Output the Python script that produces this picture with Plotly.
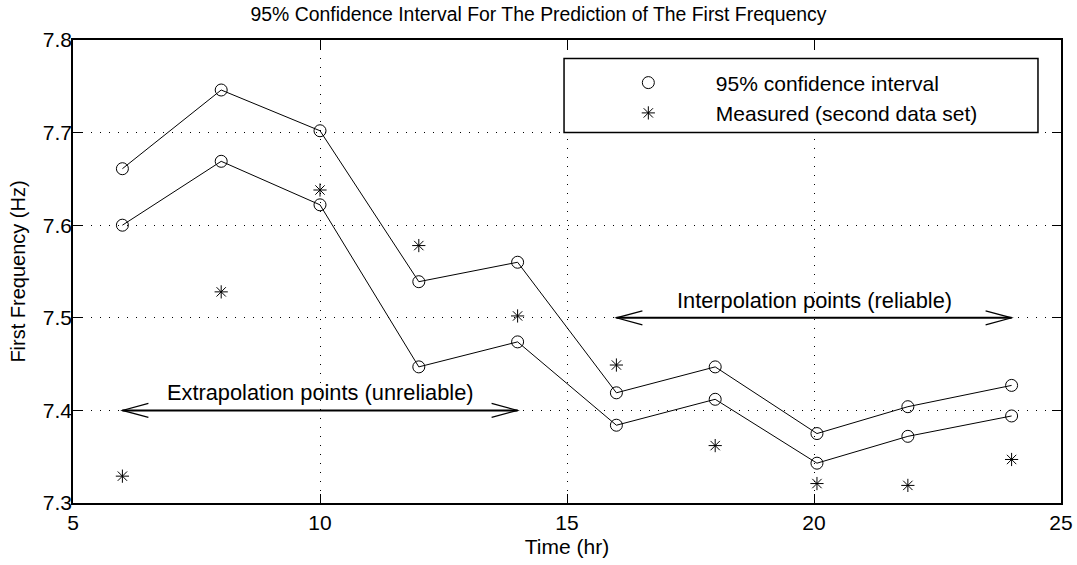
import plotly.graph_objects as go

# ---- data ----
times = [6, 8, 10, 12, 14, 16, 18, 20.06, 21.9, 24]
upper_ci = [7.661, 7.746, 7.702, 7.539, 7.560, 7.419, 7.447, 7.375, 7.404, 7.427]
lower_ci = [7.600, 7.669, 7.622, 7.447, 7.474, 7.384, 7.412, 7.343, 7.372, 7.394]
measured = [7.329, 7.528, 7.638, 7.578, 7.502, 7.449, 7.362, 7.321, 7.319, 7.347]

x_ticks = [5, 10, 15, 20, 25]
y_ticks = [7.3, 7.4, 7.5, 7.6, 7.7, 7.8]

extrap_span = [6, 14]
extrap_level = 7.4
extrap_label = "Extrapolation points (unreliable)"
interp_span = [16, 24]
interp_level = 7.5
interp_label = "Interpolation points (reliable)"

FONT = "Liberation Sans, Arial, Helvetica, sans-serif"

fig = go.Figure()
fig.add_trace(go.Scatter(x=times, y=upper_ci, mode="lines",
                         line=dict(color="black", width=1), showlegend=False, hoverinfo="skip"))
fig.add_trace(go.Scatter(x=times, y=lower_ci, mode="lines",
                         line=dict(color="black", width=1), showlegend=False, hoverinfo="skip"))
fig.add_trace(go.Scatter(x=times + times, y=upper_ci + lower_ci, mode="markers",
                         name="95% confidence interval",
                         marker=dict(symbol="circle-open", size=12, color="black",
                                     line=dict(width=1, color="black"))))
fig.add_trace(go.Scatter(x=times, y=measured, mode="markers",
                         name="Measured (second data set)",
                         marker=dict(symbol="asterisk-open", size=11, color="black",
                                     line=dict(width=1, color="black"))))

shapes = []
def double_arrow(span, level):
    shapes.append(dict(type="line", xref="x", yref="y", x0=span[0], x1=span[1],
                       y0=level, y1=level, line=dict(color="black", width=2)))
    shapes.append(dict(type="path", xref="x", yref="y", xsizemode="pixel", ysizemode="pixel",
                       xanchor=span[0], yanchor=level, path="M 26,7 L 0,0 L 26,-7",
                       line=dict(color="black", width=1.2)))
    shapes.append(dict(type="path", xref="x", yref="y", xsizemode="pixel", ysizemode="pixel",
                       xanchor=span[1], yanchor=level, path="M -26,7 L 0,0 L -26,-7",
                       line=dict(color="black", width=1.2)))

double_arrow(extrap_span, extrap_level)
double_arrow(interp_span, interp_level)

# legend frame
shapes.append(dict(type="rect", xref="paper", yref="paper", x0=0.497, x1=0.9767,
                   y0=0.8004, y1=0.960, line=dict(color="black", width=1.5),
                   fillcolor="white", layer="above"))

annotations = [
    dict(x=sum(extrap_span) / 2, y=extrap_level, xref="x", yref="y", text=extrap_label,
         showarrow=False, yanchor="bottom", yshift=3, font=dict(size=21.8, color="black", family=FONT)),
    dict(x=sum(interp_span) / 2, y=interp_level, xref="x", yref="y", text=interp_label,
         showarrow=False, yanchor="bottom", yshift=3, font=dict(size=21.8, color="black", family=FONT)),
]

axis_common = dict(showline=True, linecolor="black", linewidth=1.5, mirror="ticks",
                   ticks="inside", ticklen=9, tickwidth=1, tickcolor="black",
                   showgrid=True, gridcolor="black", gridwidth=1, griddash="1px,8px",
                   zeroline=False, automargin=False,
                   tickfont=dict(size=21, color="black", family=FONT))

fig.update_layout(
    width=1077, height=565,
    margin=dict(l=73, r=16, t=40, b=62, autoexpand=False),
    paper_bgcolor="white", plot_bgcolor="white",
    font=dict(family=FONT, color="black"),
    title=dict(text="95% Confidence Interval For The Prediction of The First Frequency",
               x=0.5, xanchor="center", y=0.975, yanchor="middle",
               font=dict(size=19.4, color="black", family=FONT)),
    xaxis=dict(range=[5, 25], tickvals=x_ticks, ticktext=[str(v) for v in x_ticks],
               title=dict(text="Time (hr)", font=dict(size=21, color="black", family=FONT), standoff=6),
               **axis_common),
    yaxis=dict(range=[7.3, 7.8], tickvals=y_ticks, ticktext=[f"{v:.1f}" for v in y_ticks],
               ticklabelstandoff=-5,
               title=dict(text="First Frequency (Hz)", font=dict(size=20, color="black", family=FONT), standoff=12),
               **axis_common),
    legend=dict(x=0.514, y=0.9515, xanchor="left", yanchor="top", bgcolor="rgba(0,0,0,0)",
                borderwidth=0, itemwidth=125, font=dict(size=21, color="black", family=FONT),
                tracegroupgap=0),
    shapes=shapes,
    annotations=annotations,
    showlegend=True,
)

fig.write_html("out.html", config={"displayModeBar": False},
               post_script="document.body.style.margin='0';document.body.style.padding='0';")
